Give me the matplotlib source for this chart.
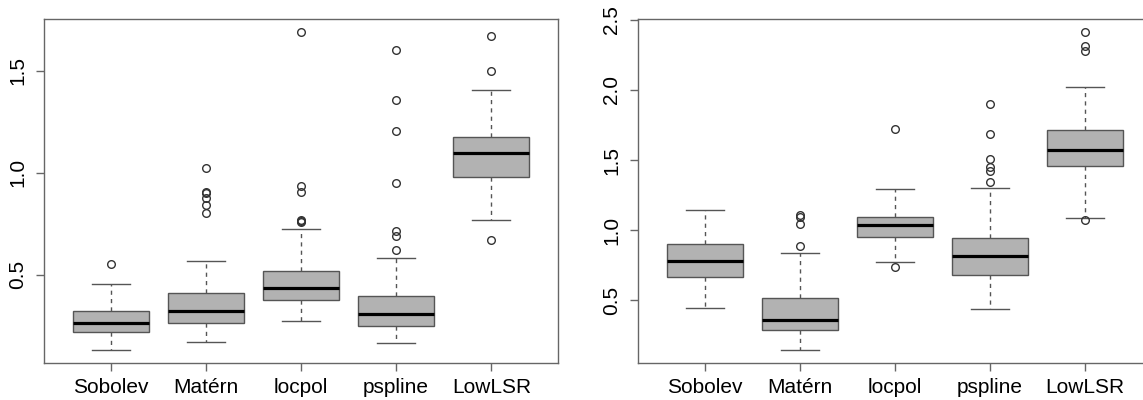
import numpy as np
import matplotlib.pyplot as plt

plt.rcParams['font.family'] = ['Liberation Sans', 'DejaVu Sans']

# =========================
# data
# =========================
methods = ["Sobolev", "Matérn", "locpol", "pspline", "LowLSR"]

# left panel: whisker low, q1, median, q3, whisker high
left_whislo = [0.129, 0.169, 0.272, 0.164, 0.767]
left_q1 = [0.220, 0.264, 0.376, 0.246, 0.979]
left_med = [0.264, 0.322, 0.433, 0.309, 1.096]
left_q3 = [0.321, 0.410, 0.516, 0.394, 1.174]
left_whishi = [0.453, 0.568, 0.722, 0.580, 1.407]
left_fliers = [
    [0.554],
    [1.021, 0.906, 0.900, 0.878, 0.839, 0.800],
    [1.691, 0.935, 0.906, 0.769, 0.761, 0.756],
    [1.600, 1.355, 1.205, 0.950, 0.713, 0.689, 0.621],
    [1.671, 1.499, 0.671],
]

# right panel
right_whislo = [0.443, 0.145, 0.772, 0.438, 1.087]
right_q1 = [0.670, 0.289, 0.952, 0.682, 1.461]
right_med = [0.784, 0.358, 1.037, 0.817, 1.575]
right_q3 = [0.902, 0.517, 1.092, 0.943, 1.714]
right_whishi = [1.146, 0.841, 1.295, 1.300, 2.024]
right_fliers = [
    [],
    [1.111, 1.094, 1.042, 0.888],
    [1.719, 0.741],
    [1.897, 1.688, 1.506, 1.452, 1.425, 1.347],
    [2.415, 2.313, 2.280, 1.073],
]

left_yticks = [0.5, 1.0, 1.5]
right_yticks = [0.5, 1.0, 1.5, 2.0, 2.5]


def make_stats(lo, q1, med, q3, hi, fl):
    stats = []
    for i in range(len(methods)):
        stats.append(dict(whislo=lo[i], q1=q1[i], med=med[i], q3=q3[i],
                          whishi=hi[i], fliers=fl[i], label=methods[i]))
    return stats


def draw_panel(ax, stats, yticks):
    edge = "#555555"
    ax.bxp(stats, positions=np.arange(1, 6), widths=0.8, patch_artist=True,
           boxprops=dict(facecolor="#b2b2b2", edgecolor=edge, linewidth=1.0),
           medianprops=dict(color="black", linewidth=2.3, solid_capstyle="butt"),
           whiskerprops=dict(color=edge, linewidth=1.0, linestyle=(0, (3, 3))),
           capprops=dict(color=edge, linewidth=1.0),
           capwidths=0.4,
           flierprops=dict(marker="o", markersize=5.5, markerfacecolor="none",
                           markeredgecolor="#333333", markeredgewidth=1.0))

    # R-like 4% range expansion
    allv = [s["whislo"] for s in stats] + [s["whishi"] for s in stats]
    for s in stats:
        allv += list(s["fliers"])
    lo, hi = min(allv), max(allv)
    pad = 0.04 * (hi - lo)
    ax.set_ylim(lo - pad, hi + pad)
    ax.set_xlim(0.3, 5.7)

    ax.set_yticks(yticks)
    ax.set_yticklabels(["%.1f" % v for v in yticks], rotation=90, va="center")
    ax.set_xticks(np.arange(1, 6))
    ax.set_xticklabels(methods)
    ax.tick_params(axis="both", labelsize=15, length=6, width=1.0,
                   color="#666666", labelcolor="black")
    ax.tick_params(axis="y", pad=6)
    ax.tick_params(axis="x", pad=5)
    for sp in ax.spines.values():
        sp.set_color("#666666")
        sp.set_linewidth(1.0)


fig = plt.figure(figsize=(11.43, 4.0), dpi=100)
W, H = 1143.0, 400.0

ax1 = fig.add_axes([44 / W, 37 / H, (558 - 44) / W, (363 - 19) / H])
draw_panel(ax1, make_stats(left_whislo, left_q1, left_med, left_q3,
                           left_whishi, left_fliers), left_yticks)

ax2 = fig.add_axes([638 / W, 37 / H, (1151 - 638) / W, (363 - 19) / H])
draw_panel(ax2, make_stats(right_whislo, right_q1, right_med, right_q3,
                           right_whishi, right_fliers), right_yticks)

fig.savefig("out.png", dpi=100)
